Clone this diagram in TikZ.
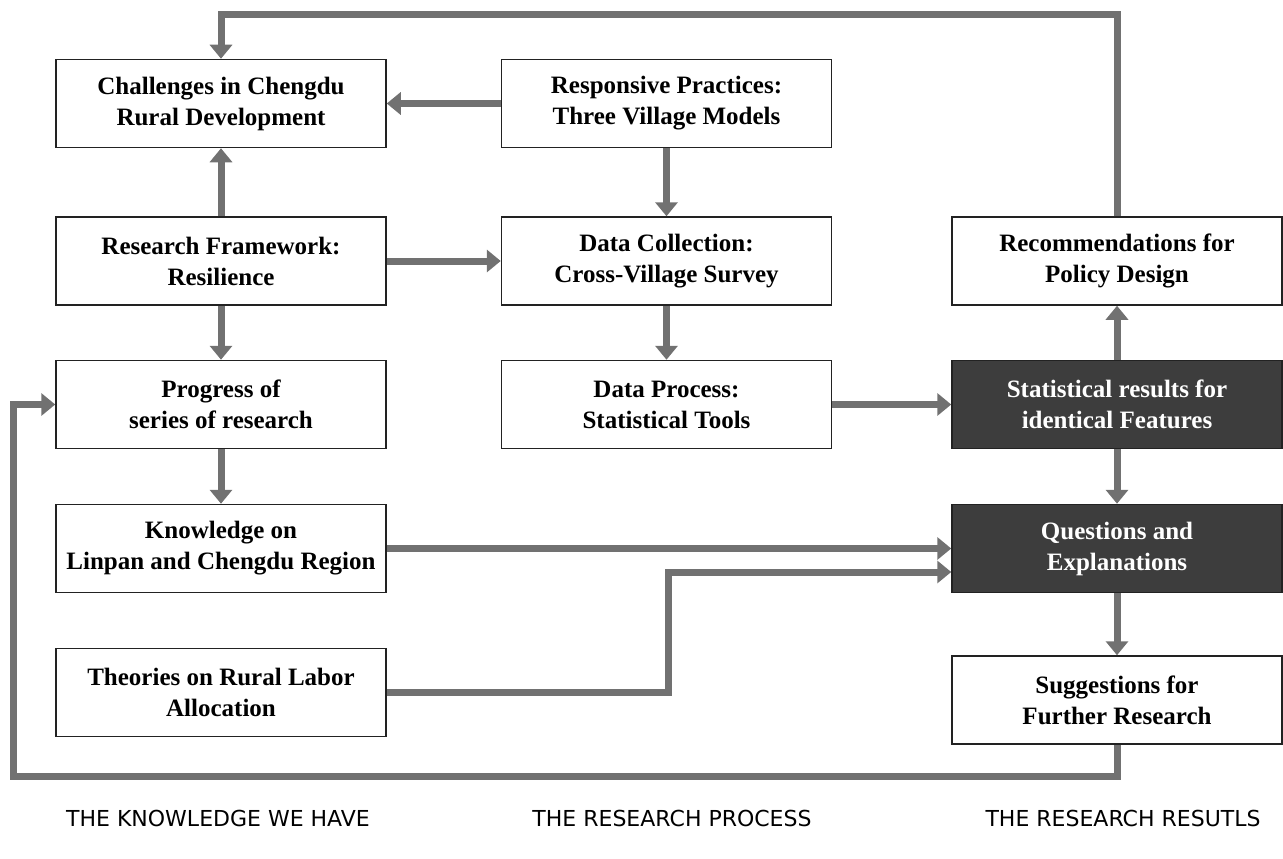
\documentclass[tikz,border=0pt]{standalone}
\usepackage{fontspec}
\setmainfont{Liberation Serif}
\newfontfamily\labfont{DejaVu Sans}
\usetikzlibrary{arrows.meta,calc}
\definecolor{arrgray}{HTML}{717171}
\definecolor{boxdark}{HTML}{3D3D3D}
\definecolor{boxline}{HTML}{222222}
\tikzset{
  box/.style={draw=boxline, line width=1.5pt, fill=white, minimum width=330pt, minimum height=88pt,
    align=center, inner sep=0pt, font=\fontsize{25}{31}\selectfont\bfseries, text=black},
  darkbox/.style={box, fill=boxdark, text=white},
  arr/.style={draw=arrgray, line width=7pt, -{Triangle[length=14pt,width=22pt]}, miter limit=10},
  lab/.style={font=\labfont\fontsize{22}{25}\selectfont, text=black, inner sep=0pt}
}
\begin{document}
\begin{tikzpicture}[x=1pt,y=-1pt]
\useasboundingbox (0,0) rectangle (1283,859);
\node[box] (ch) at (221,103.5) {Challenges in Chengdu\\Rural Development};
\node[box] (rp) at (666.5,103.5) {Responsive Practices:\\Three Village Models};
\node[box] (rf) at (221,261) {Research Framework:\\Resilience};
\node[box] (dc) at (666.5,261) {Data Collection:\\Cross-Village Survey};
\node[box] (rec) at (1117,261) {Recommendations for\\Policy Design};
\node[box] (pr) at (221,404.5) {Progress of\\series of research};
\node[box] (dp) at (666.5,404.5) {Data Process:\\Statistical Tools};
\node[darkbox] (st) at (1117,404.5) {Statistical results for\\identical Features};
\node[box] (kn) at (221,548.5) {Knowledge on\\Linpan and Chengdu Region};
\node[darkbox] (qe) at (1117,548.5) {Questions and\\Explanations};
\node[box] (th) at (221,692.5) {Theories on Rural Labor\\Allocation};
\node[box] (su) at (1117,700) {Suggestions for\\Further Research};

\coordinate (topy) at (0,15);
\coordinate (bl) at (13,776.5);
\coordinate (qe2) at ($(qe.west)+(0,23.5)$);

\draw[arr] (rp) -- (ch);
\draw[arr] (rf) -- (ch);
\draw[arr] (rf) -- (dc);
\draw[arr] (rp) -- (dc);
\draw[arr] (rf) -- (pr);
\draw[arr] (dc) -- (dp);
\draw[arr] (pr) -- (kn);
\draw[arr] (dp) -- (st);
\draw[arr] (st) -- (rec);
\draw[arr] (st) -- (qe);
\draw[arr] (qe) -- (su);
\draw[arr] (kn) -- (qe);
\draw[arr] (th.east) -- ++(282,0) |- (qe2);
\draw[arr] (rec.north) -- (rec.north |- topy) -| (ch.north);
\draw[arr] (su.south) |- (bl) |- (pr.west);

\node[lab] (l1) at (218,818) {THE KNOWLEDGE WE HAVE};
\node[lab] (l2) at (672,818) {THE RESEARCH PROCESS};
\node[lab] (l3) at (1123,818) {THE RESEARCH RESUTLS};
\end{tikzpicture}
\end{document}
